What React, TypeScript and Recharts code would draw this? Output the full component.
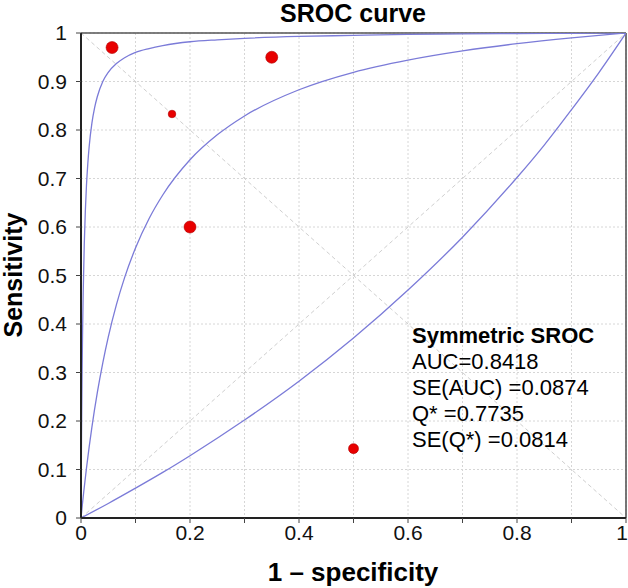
import React from 'react';
import {
  ComposedChart,
  Line,
  Scatter,
  XAxis,
  YAxis,
  CartesianGrid,
  ReferenceLine,
} from 'recharts';

// ---- Data ----
const xTicks = [0, 0.1, 0.2, 0.3, 0.4, 0.5, 0.6, 0.7, 0.8, 0.9, 1];
const yTicks = [0, 0.1, 0.2, 0.3, 0.4, 0.5, 0.6, 0.7, 0.8, 0.9, 1];

// Upper SROC bound
const upperFpr = [0, 0.001, 0.002, 0.003, 0.004, 0.006, 0.008, 0.01, 0.0125, 0.015, 0.02, 0.025, 0.03, 0.04, 0.05, 0.065, 0.08, 0.1, 0.125, 0.15, 0.2, 0.25, 0.3, 0.4, 0.5, 0.6, 0.7, 0.8, 0.9, 1];
const upperSens = [0, 0.177, 0.301, 0.393, 0.463, 0.565, 0.634, 0.685, 0.731, 0.766, 0.814, 0.846, 0.869, 0.9, 0.919, 0.937, 0.949, 0.96, 0.968, 0.974, 0.982, 0.986, 0.989, 0.993, 0.995, 0.997, 0.998, 0.999, 0.9995, 1];

// Symmetric SROC curve
const srocFpr = [0, 0.0025, 0.005, 0.01, 0.015, 0.02, 0.03, 0.04, 0.05, 0.065, 0.08, 0.1, 0.125, 0.15, 0.2, 0.25, 0.3, 0.4, 0.5, 0.6, 0.7, 0.8, 0.9, 1];
const srocSens = [0, 0.0275, 0.0537, 0.1024, 0.1468, 0.1874, 0.259, 0.32, 0.373, 0.44, 0.4956, 0.5567, 0.6175, 0.666, 0.7386, 0.79, 0.829, 0.883, 0.919, 0.944, 0.963, 0.978, 0.99, 1];

// Lower SROC bound
const lowerFpr = [0, 0.05, 0.1, 0.15, 0.2, 0.3, 0.4, 0.5, 0.6, 0.7, 0.8, 0.85, 0.9, 0.95, 1];
const lowerSens = [0, 0.03, 0.0615, 0.094, 0.1285, 0.202, 0.282, 0.371, 0.47, 0.579, 0.702, 0.769, 0.842, 0.918, 1];

// Individual studies
const studyFpr = [0.057, 0.35, 0.167, 0.2, 0.5];
const studySens = [0.97, 0.95, 0.833, 0.6, 0.143];
const studyWeight = [1, 1, 0.45, 1, 0.75];

const statLines = ['AUC=0.8418', 'SE(AUC) =0.0874', 'Q* =0.7735', 'SE(Q*) =0.0814'];

// ---- build series ----
const zip = (xs: number[], ys: number[]) => xs.map((x, i) => ({ x, y: ys[i] }));
const upperData = zip(upperFpr, upperSens);
const srocData = zip(srocFpr, srocSens);
const lowerData = zip(lowerFpr, lowerSens);
const studyData = studyFpr.map((x, i) => ({ x, y: studySens[i], w: studyWeight[i] }));

const FONT = '"Liberation Sans", Arial, Helvetica, sans-serif';
const CURVE = '#7b7bd8';

const StudyDot = (props: any) => {
  const { cx, cy, payload } = props;
  if (cx == null || cy == null) return null;
  const r = 2 + 4 * payload.w;
  return <circle cx={cx} cy={cy} r={r} fill="#e80000" stroke="#b00000" strokeWidth={0.6} />;
};

const fmtX = (v: number) => {
  const k = Math.round(v * 10);
  if (k % 2 !== 0) return '';
  if (k === 0) return '0';
  if (k === 10) return '1';
  return v.toFixed(1);
};
const fmtY = (v: number) => {
  const k = Math.round(v * 10);
  if (k === 0) return '0';
  if (k === 10) return '1';
  return v.toFixed(1);
};

const XTick = (props: any) => {
  const { x, y, payload } = props;
  const label = fmtX(payload.value);
  if (!label) return null;
  const isLast = Math.round(payload.value * 10) === 10;
  return (
    <text
      x={isLast ? 628 : x}
      y={y}
      dy="0.71em"
      textAnchor={isLast ? 'end' : 'middle'}
      fontFamily={FONT}
      fontSize={21}
      fill="#111"
    >
      {label}
    </text>
  );
};

export default function App() {
  return (
    <div style={{ position: 'fixed', left: 0, top: 0, width: 628, height: 588, background: '#fff' }}>
      <ComposedChart width={628} height={588} margin={{ top: 33, right: 2, bottom: 0, left: 0 }}>
        <CartesianGrid stroke="#d6d6d6" strokeDasharray="2 2" />
        <XAxis
          dataKey="x"
          type="number"
          domain={[0, 1]}
          ticks={xTicks}
          interval={0}
          height={70}
          tickSize={5}
          tick={<XTick />}
          tickLine={{ stroke: '#444' }}
          axisLine={{ stroke: '#222', strokeWidth: 2 }}
          allowDataOverflow
        />
        <YAxis
          type="number"
          domain={[0, 1]}
          ticks={yTicks}
          interval={0}
          width={81}
          tickFormatter={fmtY}
          tickSize={5}
          tickMargin={9}
          tick={{ fontFamily: FONT, fontSize: 21, fill: '#111' }}
          tickLine={{ stroke: '#444' }}
          axisLine={{ stroke: '#222', strokeWidth: 2 }}
          allowDataOverflow
        />
        <ReferenceLine segment={[{ x: 0, y: 0 }, { x: 1, y: 1 }]} stroke="#cfcfcf" strokeDasharray="4 3" />
        <ReferenceLine segment={[{ x: 0, y: 1 }, { x: 1, y: 0 }]} stroke="#cfcfcf" strokeDasharray="4 3" />
        <ReferenceLine y={1} stroke="#555" strokeWidth={1.6} />
        <ReferenceLine x={1} stroke="#555" strokeWidth={1.6} />
        <Line data={upperData} dataKey="y" type="monotone" stroke={CURVE} strokeWidth={1.3} dot={false} activeDot={false} isAnimationActive={false} />
        <Line data={srocData} dataKey="y" type="monotone" stroke={CURVE} strokeWidth={1.3} dot={false} activeDot={false} isAnimationActive={false} />
        <Line data={lowerData} dataKey="y" type="monotone" stroke={CURVE} strokeWidth={1.3} dot={false} activeDot={false} isAnimationActive={false} />
        <Scatter data={studyData} dataKey="y" shape={StudyDot} isAnimationActive={false} />
      </ComposedChart>
      <svg
        width={628}
        height={588}
        style={{ position: 'absolute', left: 0, top: 0, pointerEvents: 'none' }}
      >
        <text x={353} y={22} textAnchor="middle" fontFamily={FONT} fontWeight="bold" fontSize={25} fill="#000">
          SROC curve
        </text>
        <text x={353} y={581} textAnchor="middle" fontFamily={FONT} fontWeight="bold" fontSize={26} fill="#000">
          1 – specificity
        </text>
        <text
          transform="translate(22,275) rotate(-90)"
          textAnchor="middle"
          fontFamily={FONT}
          fontWeight="bold"
          fontSize={25}
          fill="#000"
        >
          Sensitivity
        </text>
        <text x={412} y={342.5} fontFamily={FONT} fontWeight="bold" fontSize={22} fill="#000">
          Symmetric SROC
        </text>
        {statLines.map((s, i) => (
          <text key={s} x={412} y={368.5 + i * 26.3} fontFamily={FONT} fontSize={22} fill="#000">
            {s}
          </text>
        ))}
      </svg>
    </div>
  );
}
